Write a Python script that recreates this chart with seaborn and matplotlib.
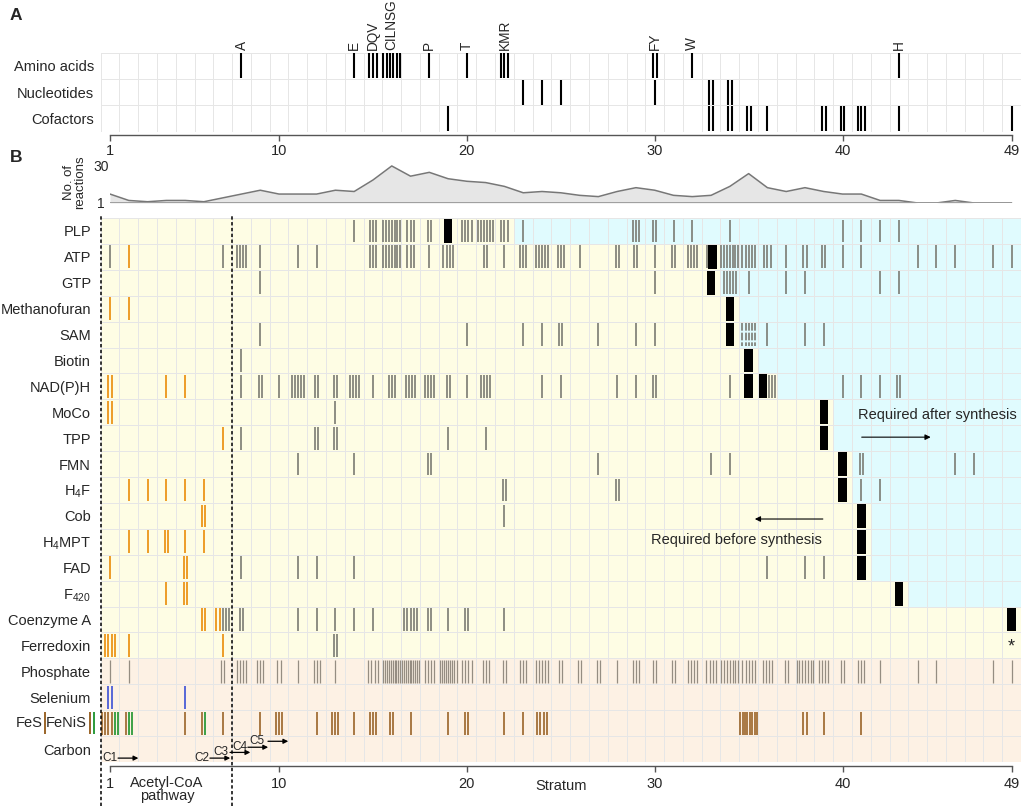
import matplotlib
matplotlib.use("Agg")
from collections import defaultdict

import matplotlib.pyplot as plt
import matplotlib.transforms as mtransforms
import numpy as np
import seaborn as sns
from matplotlib.colors import ListedColormap

W, H = 1024, 806

# ---------------- data ----------------
strata = np.arange(1, 50)
tick_strata = [1, 10, 20, 30, 40, 49]

# panel A: (stratum, number of compounds)
amino_acids = [(8, 1), (14, 1), (15, 3), (16, 6), (18, 1), (20, 1), (22, 3), (30, 2), (32, 1), (43, 1)]
amino_labels = ["A", "E", "DQV", "CILNSG", "P", "T", "KMR", "FY", "W", "H"]
nucleotides = [(23, 1), (24, 1), (25, 1), (30, 1), (33, 2), (34, 2)]
cofactors = [(19, 1), (33, 2), (34, 2), (35, 2), (36, 1), (39, 2), (40, 2), (41, 3), (43, 1), (49, 1)]
panel_a_rows = ["Amino acids", "Nucleotides", "Cofactors"]

# reactions per stratum
reactions = [8, 3, 2, 3, 3, 2, 5, 8, 11, 8, 8, 8, 11, 10, 19, 30, 22, 25, 20, 18,
             17, 14, 9, 10, 9, 7, 6, 10, 13, 11, 7, 6, 7, 14, 24, 13, 10, 13, 10, 8,
             8, 3, 3, 1, 1, 3, 1, 1, 1]

# panel B rows
rows = ["PLP", "ATP", "GTP", "Methanofuran", "SAM", "Biotin", "NAD(P)H", "MoCo", "TPP", "FMN",
        "H4F", "Cob", "H4MPT", "FAD", "F420", "Coenzyme A", "Ferredoxin",
        "Phosphate", "Selenium", "FeS", "Carbon"]
row_labels = ["PLP", "ATP", "GTP", "Methanofuran", "SAM", "Biotin", "NAD(P)H", "MoCo", "TPP", "FMN",
              "H$_4$F", "Cob", "H$_4$MPT", "FAD", "F$_{420}$", "Coenzyme A", "Ferredoxin",
              "Phosphate", "Selenium", "", "Carbon"]
mineral_rows = ["Phosphate", "Selenium", "FeS", "Carbon"]

# stratum in which each cofactor is synthesised
synthesis = {"PLP": [19], "ATP": [33], "GTP": [33], "Methanofuran": [34], "SAM": [34],
             "Biotin": [35], "NAD(P)H": [35, 36], "MoCo": [39], "TPP": [39], "FMN": [40],
             "H4F": [40], "Cob": [41], "H4MPT": [41], "FAD": [41], "F420": [43],
             "Coenzyme A": [49]}
# first stratum of the "after synthesis" background
after_from = {"PLP": 23, "ATP": 34, "GTP": 34, "Methanofuran": 35, "SAM": 35, "Biotin": 36,
              "NAD(P)H": 37, "MoCo": 40, "TPP": 40, "FMN": 41, "H4F": 41, "Cob": 42,
              "H4MPT": 42, "FAD": 42, "F420": 44}
block_after_lines = {"ATP"}

gray_req = {
    "PLP": [(14, 1), (15, 3), (16, 7), (17, 3), (18, 2), (20, 4), (21, 6), (22, 3), (23, 1),
            (29, 3), (30, 2), (31, 1), (32, 1), (34, 1), (40, 1), (41, 1), (42, 1), (43, 1)],
    "ATP": [(1, 1), (7, 1), (8, 4), (9, 1), (11, 1), (12, 1), (15, 3), (16, 7), (17, 3), (18, 1),
            (19, 4), (21, 2), (22, 1), (23, 3), (24, 5), (25, 3), (26, 1), (28, 2), (29, 2),
            (30, 1), (31, 2), (32, 4), (33, 1), (34, 7), (35, 5), (36, 3), (37, 1), (38, 2),
            (39, 2), (40, 1), (41, 1), (44, 1), (45, 1), (46, 1), (48, 1), (49, 1)],
    "GTP": [(9, 1), (30, 1), (34, 5), (35, 1), (37, 1), (38, 1), (42, 1), (43, 1)],
    "SAM": [(9, 1), (20, 1), (23, 1), (24, 1), (25, 2), (27, 1), (29, 1), (30, 1), (36, 1),
            (38, 1), (39, 1)],
    "Biotin": [(8, 1)],
    "NAD(P)H": [(8, 1), (9, 2), (10, 1), (11, 5), (12, 2), (13, 2), (14, 4), (15, 1), (16, 3),
                (17, 4), (18, 4), (19, 2), (20, 1), (21, 4), (24, 1), (25, 1), (28, 1), (29, 1),
                (30, 2), (34, 1), (36, 3), (40, 1), (41, 1), (42, 1), (43, 2)],
    "MoCo": [(13, 1)],
    "TPP": [(8, 1), (12, 2), (13, 2), (19, 1), (21, 1)],
    "FMN": [(11, 1), (14, 1), (18, 2), (27, 1), (33, 1), (34, 1), (41, 2), (46, 1), (47, 1)],
    "H4F": [(22, 2), (28, 2), (41, 1), (42, 1)],
    "Cob": [(22, 1)],
    "FAD": [(8, 1), (11, 1), (12, 1), (14, 1), (36, 1), (38, 1), (39, 1)],
    "Coenzyme A": [(7, 3), (8, 2), (11, 1), (12, 1), (13, 1), (14, 1), (15, 1), (17, 5), (18, 2),
                   (19, 1), (20, 2), (22, 1)],
    "Ferredoxin": [(13, 2)],
}
partial_req = {"SAM": [(35, 5)]}
acetyl_req = {
    "ATP": [(2, 1)],
    "Methanofuran": [(1, 1), (2, 1)],
    "NAD(P)H": [(1, 2), (4, 1), (5, 1)],
    "MoCo": [(1, 2)],
    "TPP": [(7, 1)],
    "H4F": [(2, 1), (3, 1), (4, 1), (5, 1), (6, 1)],
    "Cob": [(6, 2)],
    "H4MPT": [(2, 1), (3, 1), (4, 2), (5, 1), (6, 1)],
    "FAD": [(1, 1), (5, 2)],
    "F420": [(4, 1), (5, 2)],
    "Coenzyme A": [(6, 2), (7, 2)],
    "Ferredoxin": [(1, 4), (2, 1), (7, 1)],
}
phosphate_req = [(1, 1), (2, 1), (7, 2), (8, 4), (9, 3), (10, 2), (11, 1), (12, 3), (13, 1),
                 (15, 4), (16, 10), (17, 10), (18, 4), (19, 9), (20, 4), (21, 3), (22, 2),
                 (23, 3), (24, 5), (25, 2), (26, 2), (27, 2), (28, 1), (29, 3), (30, 2), (31, 2),
                 (32, 4), (33, 4), (34, 7), (35, 5), (36, 4), (37, 2), (38, 7), (39, 4), (40, 2),
                 (41, 3), (42, 1), (44, 1), (45, 1), (48, 1), (49, 1)]
selenium_req = [(1, 2), (5, 1)]
fes_req = [(1, 4), (2, 1), (5, 1), (6, 1), (7, 1), (9, 1), (10, 3), (12, 1), (13, 3), (14, 1),
           (15, 3), (16, 2), (17, 1), (19, 1), (20, 2), (22, 1), (23, 1), (24, 4), (35, 8),
           (38, 2), (39, 1), (41, 1)]
fenis_req = [(1, 2), (2, 2), (6, 1)]

carbon_steps = ["C1", "C2", "C3", "C4", "C5"]

# ---------------- style ----------------
YELLOW, CYAN, PEACH = "#fefde4", "#e0fbfe", "#fdf1e4"
GRID = "#e6e6e6"
line_styles = {
    "orange": dict(colors="#ec9419", lw=1.3),
    "brown": dict(colors="#9a6428", lw=1.2),
    "green": dict(colors="#2c9a3a", lw=1.3),
    "blue": dict(colors="#4a5cd6", lw=1.3),
    "gray": dict(colors="#7b7b73", lw=1.2),
    "dashed": dict(colors="#7b7b73", lw=1.2, linestyles=(0, (4.6, 1.2))),
    "phos": dict(colors="#958d82", lw=0.9),
}
kind_order = ["orange", "brown", "green", "blue", "gray", "dashed", "phos"]
layers = {"orange": acetyl_req, "brown": {"FeS": fes_req}, "green": {"FeS": fenis_req},
          "blue": {"Selenium": selenium_req}, "gray": gray_req, "dashed": partial_req,
          "phos": {"Phosphate": phosphate_req}}

sns.set_style("white")
plt.rcParams["font.family"] = ["Liberation Sans", "DejaVu Sans"]
plt.rcParams["mathtext.default"] = "regular"
FS = 10.5


def px_rect(left, top, right, bottom):
    return [left / W, 1 - bottom / H, (right - left) / W, (bottom - top) / H]


def cell_offsets(kinds, sp=0.165, block_w=0.45, span=0.9):
    if "block" not in kinds:
        n = len(kinds)
        if n == 1:
            return [0.0]
        step = min(sp, span / (n - 1))
        return list((np.arange(n) - (n - 1) / 2) * step)
    widths = [block_w if k == "block" else sp for k in kinds]
    pos, cur = [], -sum(widths) / 2
    for w in widths:
        pos.append(cur + w / 2)
        cur += w
    return pos


def style_strata_axis(ax, outward, pad):
    ax.spines["bottom"].set_visible(True)
    ax.spines["bottom"].set_bounds(strata[0] - 0.5, strata[-1] - 0.5)
    ax.spines["bottom"].set_position(("outward", outward))
    ax.spines["bottom"].set_color("#555555")
    ax.spines["bottom"].set_linewidth(1.0)
    ax.set_xticks([s - 0.5 for s in tick_strata], labels=[str(s) for s in tick_strata])
    ax.tick_params(axis="x", bottom=True, length=4, width=1, color="#555555",
                   labelsize=FS, pad=pad, direction="out")


fig = plt.figure(figsize=(W / 100, H / 100), dpi=100, facecolor="white")

# ---------------- panel A ----------------
axA = fig.add_axes(px_rect(100.6, 52.5, 1021, 131.5))
sns.heatmap(np.zeros((3, len(strata))), ax=axA, cmap=ListedColormap(["white"]), cbar=False,
            linewidths=0.5, linecolor=GRID, xticklabels=False, yticklabels=False)
for r, groups in enumerate([amino_acids, nucleotides, cofactors]):
    xs = []
    for s, n in groups:
        xs += [s - 0.5 + o for o in cell_offsets(["line"] * n, sp=0.2)]
    axA.vlines(xs, r + 0.03, r + 0.98, colors="black", lw=1.5, zorder=3)
for (s, n), lab in zip(amino_acids, amino_labels):
    axA.text(s - 0.5, -0.1, lab, rotation=90, ha="center", va="bottom", fontsize=9.8)
axA.set_yticks(np.arange(3) + 0.5, labels=panel_a_rows, rotation=0)
axA.tick_params(axis="y", length=0, pad=4.5, labelsize=FS)
style_strata_axis(axA, 2.4, 2.5)

# ---------------- reactions per stratum ----------------
axR = fig.add_axes(px_rect(110, 163.4, 1021, 203))
axR.fill_between(strata - 0.5, 1, reactions, color="#e6e6e6", lw=0)
sns.lineplot(x=strata - 0.5, y=reactions, ax=axR, color="#777777", lw=1.1)
axR.hlines(1, strata[0] - 0.5, strata[-1] - 0.5, colors="#999999", lw=1.3)
axR.set_xlim(0.5, 49)
axR.set_ylim(1, 32)
axR.set_xticks([])
axR.set_yticks([1, 30], labels=["1", "30"])
for lab in axR.get_yticklabels():
    lab.set_horizontalalignment("center")
axR.tick_params(axis="y", length=0, pad=6.3, labelsize=10)
axR.set_xlabel("")
axR.set_ylabel("")
sns.despine(ax=axR, left=True, bottom=True)
fig.text(75 / W, 1 - 182 / H, "No. of\nreactions", rotation=90, ha="center", va="center",
         fontsize=9.5, linespacing=0.9)

# ---------------- panel B ----------------
axB = fig.add_axes(px_rect(100.6, 218, 1021, 762))
bg = np.zeros((len(rows), len(strata)))
for r, name in enumerate(rows):
    if name in mineral_rows:
        bg[r, :] = 2
    elif name in after_from:
        bg[r, after_from[name] - 1:] = 1
sns.heatmap(bg, ax=axB, cmap=ListedColormap([YELLOW, CYAN, PEACH]), vmin=-0.5, vmax=2.5,
            cbar=False, linewidths=0.5, linecolor=GRID, xticklabels=False, yticklabels=False)

marks = defaultdict(lambda: ([], [], []))
block_x, block_y = [], []
for r, name in enumerate(rows):
    cells = defaultdict(list)
    for kind in kind_order:
        for s, n in layers[kind].get(name, []):
            cells[s].extend([kind] * n)
    for s in synthesis.get(name, []):
        if name in block_after_lines:
            cells[s].append("block")
        else:
            cells[s].insert(0, "block")
    for s, kinds in cells.items():
        for kind, off in zip(kinds, cell_offsets(kinds)):
            if kind == "block":
                block_x.append(s - 0.5 + off)
                block_y.append(r + 0.04)
            else:
                xs, y0, y1 = marks[kind]
                xs.append(s - 0.5 + off)
                y0.append(r + 0.06)
                y1.append(r + 0.94)
for kind, (xs, y0, y1) in marks.items():
    axB.vlines(xs, y0, y1, zorder=3, **line_styles[kind])
axB.bar(block_x, 0.92, width=0.45, bottom=block_y, color="black", zorder=4, lw=0)

axB.set_yticks(np.arange(len(rows)) + 0.5, labels=row_labels, rotation=0)
axB.tick_params(axis="y", length=0, pad=7.0, labelsize=FS)
style_strata_axis(axB, 2.9, 4.0)

# FeS | FeNiS label with colour keys
fx = lambda px: (px - 100.6) / (1021 - 100.6)
tr = mtransforms.blended_transform_factory(axB.transAxes, axB.transData)
r_fes = rows.index("FeS")
axB.text(fx(42.5), r_fes + 0.5, "FeS", ha="right", va="center", fontsize=FS, transform=tr)
axB.text(fx(87), r_fes + 0.5, "FeNiS", ha="right", va="center", fontsize=FS, transform=tr)
axB.vlines([fx(44.5), fx(89.5)], r_fes + 0.08, r_fes + 0.92, colors="#9a6428", lw=1.4,
           transform=tr, clip_on=False)
axB.vlines([fx(93.5)], r_fes + 0.08, r_fes + 0.92, colors="#2c9a3a", lw=1.4,
           transform=tr, clip_on=False)

# carbon fixation steps
r_c = rows.index("Carbon")
c_text_x = [0.07, 4.97, 5.98, 6.99, 7.9]
c_arrow_x = [0.93, 5.82, 6.89, 7.84, 8.91]
c_y = [0.85, 0.85, 0.63, 0.43, 0.2]
for lab, tx, ax0, cy in zip(carbon_steps, c_text_x, c_arrow_x, c_y):
    axB.text(tx, r_c + cy, lab, ha="left", va="center", fontsize=8.5, zorder=5)
    axB.annotate("", xy=(ax0 + 1.08, r_c + cy), xytext=(ax0, r_c + cy),
                 arrowprops=dict(arrowstyle="-|>", color="black", lw=0.9, mutation_scale=7,
                                 shrinkA=0, shrinkB=0), zorder=5)

# annotations
axB.text(44.57, 7.6, "Required after synthesis", ha="center", va="center", fontsize=FS)
axB.annotate("", xy=(44.19, 8.46), xytext=(40.52, 8.46),
             arrowprops=dict(arrowstyle="-|>", color="black", lw=0.8, mutation_scale=8,
                             shrinkA=0, shrinkB=0))
axB.text(38.39, 12.43, "Required before synthesis", ha="right", va="center", fontsize=FS)
axB.annotate("", xy=(34.83, 11.62), xytext=(38.45, 11.62),
             arrowprops=dict(arrowstyle="-|>", color="black", lw=0.8, mutation_scale=8,
                             shrinkA=0, shrinkB=0))
axB.text(strata[-1] - 0.5, rows.index("Ferredoxin") + 0.55, "*", ha="center", va="center",
         fontsize=13)

# acetyl-CoA pathway boundaries
for x in (0, 7):
    axB.axvline(x, ymin=-0.081, ymax=1.006, color="black", lw=1.1, ls=(0, (2.2, 1.6)),
                clip_on=False, zorder=6)
tb = mtransforms.blended_transform_factory(axB.transData, axB.transAxes)
axB.text(3.53, -0.026, "Acetyl-CoA\npathway", ha="center", va="top", fontsize=FS,
         linespacing=0.92, transform=tb)
axB.text(24.5, -0.031, "Stratum", ha="center", va="top", fontsize=FS, transform=tb)

fig.text(10 / W, 1 - 15 / H, "A", fontsize=12.5, fontweight="bold", ha="left", va="center")
fig.text(10 / W, 1 - 157 / H, "B", fontsize=12.5, fontweight="bold", ha="left", va="center")

fig.savefig("out.png", dpi=100, facecolor="white")
